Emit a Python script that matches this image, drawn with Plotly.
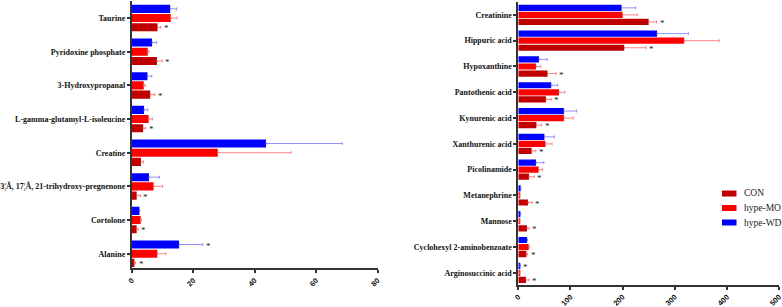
import plotly.graph_objects as go

# ---------------- data ----------------
series_names = ["CON", "hype-MO", "hype-WD"]
series_colors = ["#c00000", "#ff0000", "#0000ff"]
error_colors = ["rgba(255,90,90,0.75)", "rgba(255,90,90,0.75)", "rgba(110,110,255,0.75)"]

left_categories = ["Taurine", "Pyridoxine phosphate", "3-Hydroxypropanal",
                   "L-gamma-glutamyl-L-isoleucine", "Creatine",
                   "3¦Â, 17¦Â, 21-trihydroxy-pregnenone", "Cortolone", "Alanine"]
left_con = [8.4, 8.2, 6.0, 3.7, 3.0, 1.6, 1.6, 0.85]
left_con_err = [1.0, 1.7, 1.5, 0.8, 0.8, 1.2, 0.5, 0.4]
left_mo = [12.7, 5.2, 3.9, 5.5, 28.0, 7.1, 2.9, 8.3]
left_mo_err = [2.0, 0.4, 0.5, 1.2, 23.8, 2.9, 0.2, 2.8]
left_wd = [12.5, 6.6, 5.1, 4.0, 43.7, 5.6, 2.5, 15.4]
left_wd_err = [2.1, 1.5, 1.4, 1.2, 24.8, 3.4, 0.1, 7.7]
left_sig = {"CON": ["Taurine", "Pyridoxine phosphate", "3-Hydroxypropanal",
                    "L-gamma-glutamyl-L-isoleucine",
                    "3¦Â, 17¦Â, 21-trihydroxy-pregnenone", "Cortolone", "Alanine"],
            "hype-MO": [],
            "hype-WD": ["Alanine"]}
left_ticks = [0, 20, 40, 60, 80]

right_categories = ["Creatinine", "Hippuric acid", "Hypoxanthine", "Pantothenic acid",
                    "Kynurenic acid", "Xanthurenic acid", "Picolinamide", "Metanephrine",
                    "Mannose", "Cyclohexyl 2-aminobenzoate", "Arginosuccinic acid"]
right_con = [250, 203, 56, 53, 34.5, 25.6, 20.5, 18.6, 16.7, 15.4, 14.7]
right_con_err = [15, 42, 16.5, 10, 10, 8, 10, 8, 4, 2.5, 6]
right_mo = [200, 318, 34, 78, 87.5, 52, 39, 2, 2, 20, 2.6]
right_mo_err = [28, 67, 9, 11, 18, 12.7, 7.7, 0.3, 0.3, 1.0, 0.3]
right_wd = [198, 266, 39.6, 63, 87.5, 50, 34, 4.5, 4, 16.7, 3.3]
right_wd_err = [27, 60, 16, 12, 24, 19, 15, 0.5, 0.5, 1.0, 0.5]
right_sig = {"CON": right_categories[:],
             "hype-MO": [],
             "hype-WD": ["Arginosuccinic acid"]}
right_ticks = [0, 100, 200, 300, 400, 500]

# ---------------- figure ----------------
SERIF = "Liberation Serif"
SANS = "Liberation Sans"
BARGAP = 0.18

fig = go.Figure()

panels = [
    ("x", "y", left_categories, [left_con, left_mo, left_wd],
     [left_con_err, left_mo_err, left_wd_err], left_sig),
    ("x2", "y2", right_categories, [right_con, right_mo, right_wd],
     [right_con_err, right_mo_err, right_wd_err], right_sig),
]

annotations = []
shapes = []
for xa, ya, cats, vals, errs, sig in panels:
    for i, name in enumerate(series_names):
        fig.add_trace(go.Bar(
            y=cats, x=vals[i], orientation="h", name=name,
            marker=dict(color=series_colors[i], line=dict(width=0)),
            error_x=dict(type="data", array=errs[i], arrayminus=[0] * len(cats),
                         symmetric=False, color=error_colors[i], thickness=1, width=1.5),
            xaxis=xa, yaxis=ya, showlegend=False,
        ))
    # significance asterisks
    ncat = len(cats)
    bw = (1 - BARGAP) / 3
    for i, name in enumerate(series_names):
        for c in sig[name]:
            k = cats.index(c)
            idx = ncat - 1 - k  # categoryarray reversed (bottom first)
            annotations.append(dict(
                x=vals[i][k] + errs[i][k], y=idx + (i - 1) * bw,
                xref=xa, yref=ya, text="*", showarrow=False,
                xanchor="left", yanchor="middle", xshift=1, yshift=-1,
                font=dict(family=SERIF, size=9, color="#222"),
            ))

# compact legend (swatch + label per series)
leg_x0, leg_top, leg_step = 722, 193.5, 14.5
for i, name in enumerate(series_names):
    yc = leg_top + i * leg_step
    shapes.append(dict(type="rect", xref="paper", yref="paper",
                       x0=leg_x0 / 782, x1=(leg_x0 + 14.5) / 782,
                       y0=1 - (yc + 3) / 307, y1=1 - (yc - 3) / 307,
                       fillcolor=series_colors[i], line=dict(width=0)))
    annotations.append(dict(x=(leg_x0 + 19.5) / 782, y=1 - yc / 307,
                            xref="paper", yref="paper", text=name, showarrow=False,
                            xanchor="left", yanchor="middle",
                            font=dict(family=SERIF, size=9.5, color="#222")))

axis_common = dict(showline=True, linecolor="#333", linewidth=1.8, ticks="outside",
                   tickcolor="#333", tickwidth=1.5, showgrid=False, zeroline=False,
                   automargin=False)
xfont = dict(family=SANS, size=7.5, color="#111", weight="bold")
yfont = dict(family=SERIF, size=8, color="#111", weight="bold")

fig.update_layout(
    width=782, height=307,
    margin=dict(l=0, r=0, t=0, b=0, autoexpand=False),
    paper_bgcolor="white", plot_bgcolor="white",
    barmode="group", bargap=BARGAP, bargroupgap=0.12,
    showlegend=False,
    xaxis=dict(domain=[0.1685, 0.483], range=[0, 80.05], tickvals=left_ticks,
               tickangle=-45, ticklen=3, anchor="y", tickfont=xfont, **axis_common),
    yaxis=dict(domain=[0.126, 0.996], type="category",
               categoryorder="array", categoryarray=left_categories[::-1],
               range=[-0.434, 7.5], ticklen=3, anchor="x", tickfont=yfont, **axis_common),
    xaxis2=dict(domain=[0.6628, 0.9966], range=[0, 500.5], tickvals=right_ticks,
                tickangle=-45, ticklen=3, anchor="y2", tickfont=xfont,
                ticklabeloverflow="allow", **axis_common),
    yaxis2=dict(domain=[0.0726, 0.9935], type="category",
                categoryorder="array", categoryarray=right_categories[::-1],
                range=[-0.46, 10.5], ticklen=3, anchor="x2", tickfont=yfont, **axis_common),
    annotations=annotations,
    shapes=shapes,
    font=dict(family=SERIF),
)

fig.write_html("out.html", config={"displayModeBar": False},
               post_script="document.body.style.margin='0';document.body.style.overflow='hidden';")
